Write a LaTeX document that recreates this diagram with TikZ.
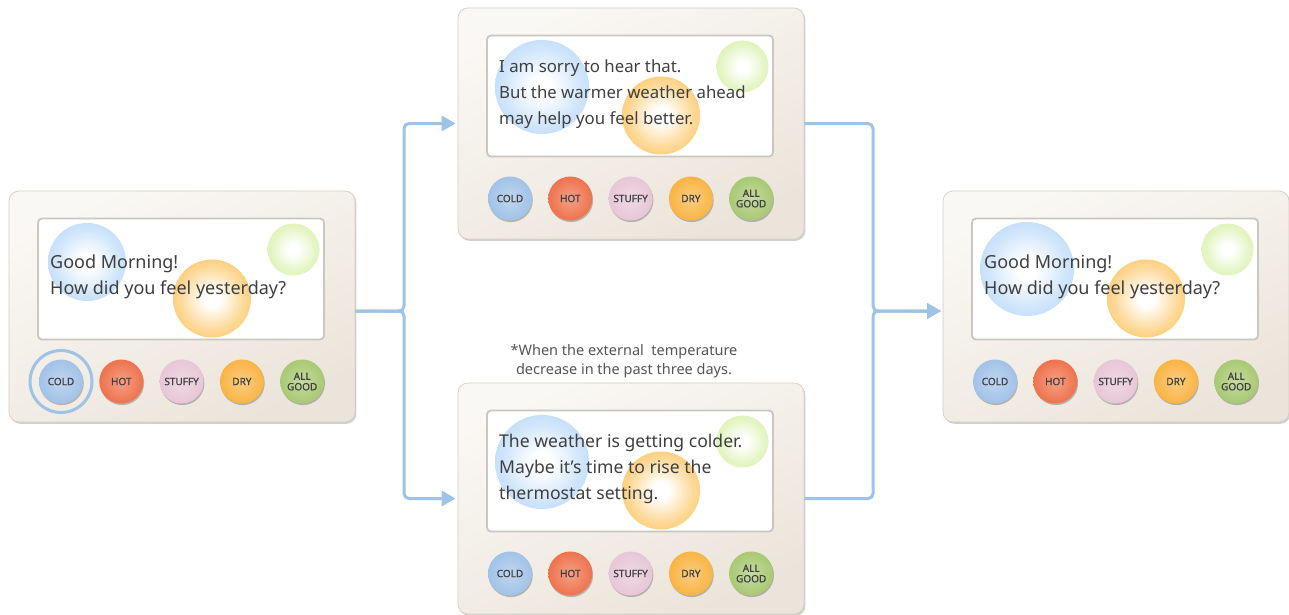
\documentclass[tikz,border=0pt]{standalone}
\usepackage{fontspec}
\setmainfont{Noto Sans}
\newfontfamily\keyfont[FakeBold=0.8]{Noto Sans}
\usetikzlibrary{arrows.meta,shadows,fadings}

\definecolor{conncol}{HTML}{9DC3E6}
\definecolor{ink}{HTML}{3F3F3F}
\definecolor{notegray}{HTML}{555555}
\definecolor{devtop}{HTML}{FAF8F4}
\definecolor{devbot}{HTML}{EBE4DA}
\definecolor{devedge}{HTML}{D4CEC5}
\definecolor{scredge}{HTML}{CBC6BF}
\definecolor{bblue}{HTML}{ADD2F8}
\definecolor{borange}{HTML}{FBBB48}
\definecolor{bgreen}{HTML}{D2EE9C}
\definecolor{kcold}{HTML}{8DB5E2}
\definecolor{khot}{HTML}{EB5426}
\definecolor{kstuffy}{HTML}{E2BACE}
\definecolor{kdry}{HTML}{F8A41C}
\definecolor{kgood}{HTML}{96BD55}

% colour slots used by the parametrised shadings
\colorlet{bubcol}{bblue}
\colorlet{keycol}{kcold}

% soft glowing disc on the display
\pgfdeclareradialshading[bubcol]{bubble}{\pgfpointorigin}{%
  color(0bp)=(white); color(5bp)=(white); color(20bp)=(bubcol!55!white);
  color(32bp)=(bubcol!88!white); color(42bp)=(bubcol); color(50bp)=(bubcol)}
\pgfdeclareradialshading{bubblemask}{\pgfpointorigin}{%
  color(0bp)=(white); color(42bp)=(white); color(50bp)=(black)}
\pgfdeclarefading{softdisc}{\pgfuseshading{bubblemask}}

% round push button, lighter in the middle
\pgfdeclareradialshading[keycol]{keyshade}{\pgfpointorigin}{%
  color(0bp)=(keycol!55!white); color(18bp)=(keycol!75!white);
  color(42bp)=(keycol); color(50bp)=(keycol!92!black)}

\tikzset{
  casing/.style={rectangle, rounded corners=10pt, minimum width=346pt,
    minimum height=231pt, draw=devedge, line width=0.7pt,
    top color=devtop, bottom color=devbot, shading angle=25,
    drop shadow={shadow xshift=1.4pt, shadow yshift=-1.8pt, opacity=0.3, fill=black!60}},
  lcd/.style={rectangle, rounded corners=4pt, minimum width=286pt,
    minimum height=121pt, fill=white, draw=scredge, line width=1.8pt},
  bubble/.style={/utils/exec={\colorlet{bubcol}{#1}}, shade, shading=bubble,
    path fading=softdisc, fit fading=true},
  msg/.style={anchor=west, align=left, inner sep=0pt,
    font=\fontsize{#1}{26}\selectfont, text=ink},
  knob/.style={circle, minimum size=44pt, inner sep=0pt,
    /utils/exec={\colorlet{keycol}{#1}}, shade, shading=keyshade,
    drop shadow={shadow xshift=0.8pt, shadow yshift=-1.6pt, opacity=0.35, fill=black!70},
    font=\keyfont\fontsize{10}{10.5}\selectfont, text=ink, align=center},
  conn/.style={draw=conncol, line width=3pt, rounded corners=5pt,
    -{Triangle[length=14pt,width=15pt]}},
  note/.style={align=center, inner sep=0pt, font=\fontsize{14.5}{19}\selectfont,
    text=notegray}
}

% one thermostat: name, top-left x, top-left y, blue disc x, y, radius,
% message size, message
\newcommand\thermostat[8]{%
  \begin{scope}[shift={(#2,#3)}]
    \node[casing] (#1) at (173,115.5) {};
    \node[lcd] (#1-lcd) at (172,88) {};
    \path[bubble=bblue] (#4,#5) circle (#6);
    \path[bubble=borange] (203,107.5) circle (39);
    \path[bubble=bgreen] (284.5,58.5) circle (26);
    \node[msg=#7] (#1-msg) at (41,86) {#8};
    \foreach \lab/\col [count=\i from 0] in
        {COLD/kcold,HOT/khot,STUFFY/kstuffy,DRY/kdry,{ALL\\GOOD}/kgood}
      \node[knob=\col] (#1-k\i) at (52+60.3*\i,190.5) {\lab};
  \end{scope}}

\begin{document}
\begin{tikzpicture}[x=1pt,y=-1pt]
  \fill[white] (0,0) rectangle (1289,614);
  \useasboundingbox (0,0) rectangle (1289,614);

  \thermostat{L}{9}{191}{78}{71}{39}{18}{Good Morning!\\How did you feel yesterday?}
  \thermostat{T}{458}{8}{84}{79}{47}{16.8}{I am sorry to hear that.\\But the warmer weather ahead\\may help you feel better.}
  \thermostat{B}{458}{383}{84}{79}{47}{17.6}{The weather is getting colder.\\Maybe it’s time to rise the\\thermostat setting.}
  \thermostat{R}{943}{191}{84}{78}{47}{18}{Good Morning!\\How did you feel yesterday?}

  % the answer that was pressed
  \draw[conncol, line width=3pt] (L-k0.center) circle (31);

  \node[note] (cond) at (624,361) {*When the external\ \ temperature\\decrease in the past three days.};

  % branching connectors
  \coordinate (J1) at (404,311);
  \coordinate (J2) at (873,311);
  \draw[conn, shorten >=2pt] (L.east |- J1) -- (J1) -- (J1 |- T.west) -- (T.west);
  \draw[conn, shorten >=2pt] (L.east |- J1) -- (J1) -- (J1 |- B.west) -- (B.west);
  \draw[conn, shorten >=1.5pt] (T.east) -- (T.east -| J2) -- (J2) -- (R.west |- J2);
  \draw[conn, shorten >=1.5pt] (B.east) -- (B.east -| J2) -- (J2) -- (R.west |- J2);
\end{tikzpicture}
\end{document}
